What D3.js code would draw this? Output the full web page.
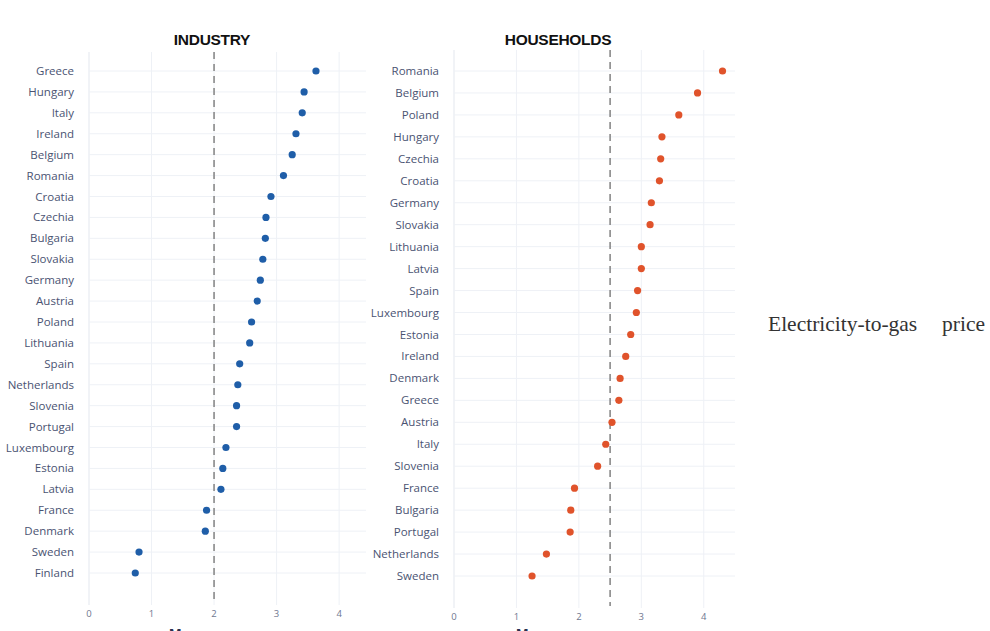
<!DOCTYPE html>
<html>
<head>
<meta charset="utf-8">
<script src="https://cdn.jsdelivr.net/npm/d3@7"></script>
<style>
  body { margin: 0; background: #fff; }
  .cat { font-family: "Open Sans", sans-serif; font-size: 11.5px; fill: #4a5372; }
  .tick-lab { font-family: "Open Sans", sans-serif; font-size: 9.5px; fill: #6f7790; }
  .title { font-family: "Liberation Sans", Arial, sans-serif; font-size: 15.5px; font-weight: bold; fill: #111; letter-spacing: -0.3px; }
  .side { font-family: "Liberation Serif", serif; font-size: 21.5px; fill: #333; }
  .cut { font-family: "Liberation Sans", Arial, sans-serif; font-size: 15px; font-weight: bold; fill: #2a3150; }
</style>
</head>
<body>
<svg id="chart" width="990" height="631"></svg>
<script>
// industry: electricity-to-gas price ratio
var ind_countries = ["Greece", "Hungary", "Italy", "Ireland", "Belgium", "Romania", "Croatia",
  "Czechia", "Bulgaria", "Slovakia", "Germany", "Austria", "Poland", "Lithuania", "Spain",
  "Netherlands", "Slovenia", "Portugal", "Luxembourg", "Estonia", "Latvia", "France",
  "Denmark", "Sweden", "Finland"];
var ind_values = [3.63, 3.44, 3.41, 3.31, 3.25, 3.11, 2.91, 2.83, 2.82, 2.78, 2.74, 2.69, 2.60,
  2.57, 2.41, 2.38, 2.36, 2.36, 2.19, 2.14, 2.11, 1.88, 1.86, 0.80, 0.74];
var ind_ref = 2.0;

// households
var hh_countries = ["Romania", "Belgium", "Poland", "Hungary", "Czechia", "Croatia", "Germany",
  "Slovakia", "Lithuania", "Latvia", "Spain", "Luxembourg", "Estonia", "Ireland", "Denmark",
  "Greece", "Austria", "Italy", "Slovenia", "France", "Bulgaria", "Portugal", "Netherlands",
  "Sweden"];
var hh_values = [4.30, 3.90, 3.60, 3.33, 3.31, 3.29, 3.16, 3.14, 3.00, 3.00, 2.94, 2.92, 2.83,
  2.75, 2.66, 2.64, 2.53, 2.43, 2.30, 1.93, 1.87, 1.86, 1.48, 1.25];
var hh_ref = 2.5;

var ticks = [0, 1, 2, 3, 4];

var svg = d3.select("#chart");

function panel(opts) {
  var g = svg.append("g");
  var x = d3.scaleLinear().domain([0, opts.xmax]).range([opts.x0, opts.x1]);
  var y = d3.scalePoint().domain(opts.cats).range([opts.y0, opts.y1]);

  // vertical grid
  g.selectAll(".vg").data(ticks).enter().append("line")
    .attr("x1", d => x(d)).attr("x2", d => x(d))
    .attr("y1", opts.top).attr("y2", opts.bottom)
    .attr("stroke", d => d === 0 ? "#e3e7ee" : "#eef1f6")
    .attr("stroke-width", 1);

  // horizontal grid
  g.selectAll(".hg").data(opts.cats).enter().append("line")
    .attr("x1", opts.x0).attr("x2", opts.x1)
    .attr("y1", d => y(d)).attr("y2", d => y(d))
    .attr("stroke", "#eef1f6").attr("stroke-width", 1);

  // reference line
  g.append("line")
    .attr("x1", x(opts.ref)).attr("x2", x(opts.ref))
    .attr("y1", opts.top).attr("y2", opts.bottom - 2)
    .attr("stroke", "#8a8a8a").attr("stroke-width", 1.6)
    .attr("stroke-dasharray", "7,5");

  // category labels
  g.selectAll(".cat").data(opts.cats).enter().append("text")
    .attr("class", "cat")
    .attr("x", opts.x0 - 15).attr("y", d => y(d))
    .attr("dy", "0.35em").attr("text-anchor", "end")
    .text(d => d);

  // tick labels
  g.selectAll(".tick-lab").data(ticks).enter().append("text")
    .attr("class", "tick-lab")
    .attr("x", d => x(d)).attr("y", opts.bottom + 12)
    .attr("text-anchor", "middle")
    .text(d => d);

  // dots
  g.selectAll(".dot").data(opts.vals).enter().append("circle")
    .attr("cx", d => x(d)).attr("cy", (d, i) => y(opts.cats[i]))
    .attr("r", 3.6).attr("fill", opts.color);

  g.append("text").attr("class", "title")
    .attr("x", opts.titleX).attr("y", 45)
    .attr("text-anchor", "middle").text(opts.title);

  // axis title, cut by the bottom edge as in the source image
  g.append("text").attr("class", "cut")
    .attr("x", opts.cutX).attr("y", 638.5).text("Mean");
}

panel({ cats: ind_countries, vals: ind_values, ref: ind_ref, xmax: 4.43,
  x0: 89, x1: 366, y0: 71, y1: 573, top: 52, bottom: 605,
  color: "#1f5ea8", title: "INDUSTRY", titleX: 212, cutX: 169 });

panel({ cats: hh_countries, vals: hh_values, ref: hh_ref, xmax: 4.5,
  x0: 454, x1: 735, y0: 71, y1: 576, top: 50, bottom: 608,
  color: "#e0532b", title: "HOUSEHOLDS", titleX: 558, cutX: 516 });

var side = svg.append("text").attr("class", "side").attr("x", 768).attr("y", 331);
side.append("tspan").text("Electricity-to-gas");
side.append("tspan").attr("x", 942).text("price");
</script>
</body>
</html>
